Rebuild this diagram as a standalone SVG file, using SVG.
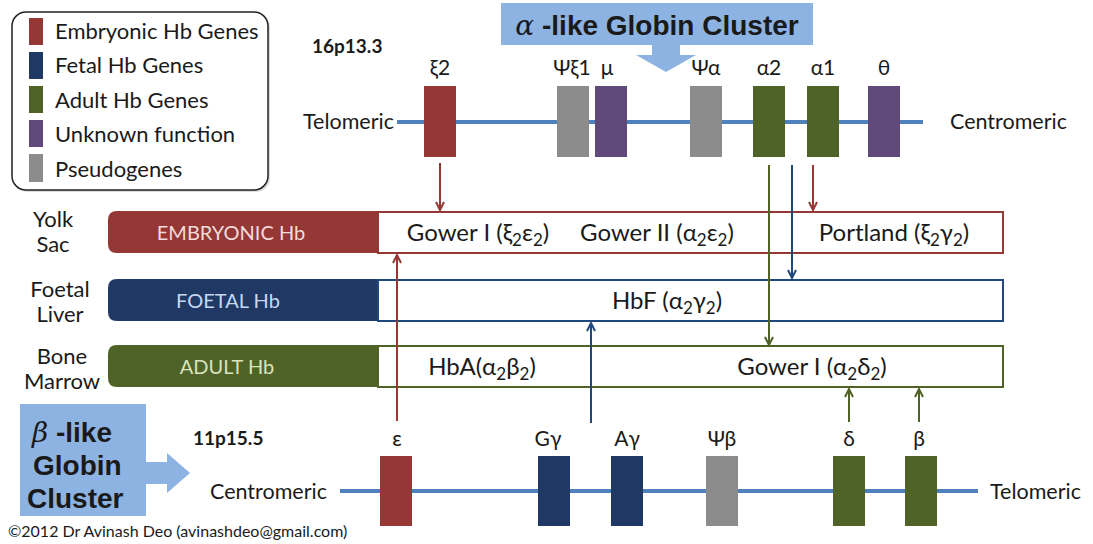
<svg xmlns="http://www.w3.org/2000/svg" width="1093" height="544" viewBox="0 0 1093 544">
<defs>
<style>
text{font-family:Lato,"Open Sans","DejaVu Sans",sans-serif;fill:#1a1a1a}
.leg{font-size:22px}
.gl{font-size:21px;text-anchor:middle}
.side{font-size:22px;text-anchor:middle}
.bar{font-size:20px;text-anchor:middle}
.hb{font-size:24px;text-anchor:middle}
.sub{font-size:17px}
.loc{font-size:19px;font-weight:bold}
.end{font-size:21.5px}
.title{font-family:"Liberation Sans",Arial,sans-serif;font-weight:bold;font-size:28px}
.chrom{stroke:#4f81bd;stroke-width:4;fill:none}
.emb{fill:#953735}.fet{fill:#1f3864}.adu{fill:#4f6228}.unk{fill:#604a7b}.pse{fill:#8c8c8c}
.callout{fill:#8db3e2}
.cr{stroke:#953735;stroke-width:2;fill:none}
.cb{stroke:#1f497d;stroke-width:2;fill:none}
.cg{stroke:#4f6228;stroke-width:2;fill:none}
</style>
<marker id="ar" viewBox="0 0 10 10" refX="9" refY="5" markerWidth="10" markerHeight="10" markerUnits="userSpaceOnUse" orient="auto"><path d="M1,1 L9,5 L1,9" fill="none" stroke="#953735" stroke-width="2"/></marker>
<marker id="ab" viewBox="0 0 10 10" refX="9" refY="5" markerWidth="10" markerHeight="10" markerUnits="userSpaceOnUse" orient="auto"><path d="M1,1 L9,5 L1,9" fill="none" stroke="#1f497d" stroke-width="2"/></marker>
<marker id="ag" viewBox="0 0 10 10" refX="9" refY="5" markerWidth="10" markerHeight="10" markerUnits="userSpaceOnUse" orient="auto"><path d="M1,1 L9,5 L1,9" fill="none" stroke="#4f6228" stroke-width="2"/></marker>
</defs>
<rect width="1093" height="544" fill="#fff"/>

<g id="legend">
<rect x="14" y="14" width="256" height="178" rx="14" fill="#999" opacity="0.35"/>
<rect x="12" y="12" width="256" height="178" rx="14" fill="#fff" stroke="#222" stroke-width="1.5"/>
<rect x="29" y="18" width="14" height="27" class="emb"/>
<rect x="29" y="52" width="14" height="27" class="fet"/>
<rect x="29" y="86" width="14" height="27" class="adu"/>
<rect x="29" y="120" width="14" height="27" class="unk"/>
<rect x="29" y="154" width="14" height="28" class="pse"/>
<text class="leg" x="55" y="39">Embryonic Hb Genes</text>
<text class="leg" x="55" y="73">Fetal Hb Genes</text>
<text class="leg" x="55" y="108">Adult Hb Genes</text>
<text class="leg" x="55" y="142">Unknown function</text>
<text class="leg" x="55" y="177">Pseudogenes</text>
</g>

<g id="alpha-callout">
<rect x="501" y="3" width="312" height="42" class="callout"/>
<path d="M652,45 H680 V55 H696 L666,72 L636,55 H652 Z" class="callout"/>
<text class="title" x="657" y="35" text-anchor="middle"><tspan font-style="italic" font-family="'DejaVu Serif',serif" font-weight="normal">α</tspan> -like Globin Cluster</text>
</g>

<g id="alpha-locus">
<text class="loc" x="312" y="53">16p13.3</text>
<text class="end" x="303" y="129">Telomeric</text>
<text class="end" x="950" y="129">Centromeric</text>
<line x1="397" y1="122" x2="923" y2="122" class="chrom"/>
</g>

<g id="gene-xi2"><rect x="424" y="86" width="32" height="71" class="emb"/><text class="gl" x="440" y="75">ξ2</text></g>
<g id="gene-psixi1"><rect x="557" y="86" width="32" height="71" class="pse"/><text class="gl" x="572" y="75">Ψξ1</text></g>
<g id="gene-mu"><rect x="595" y="86" width="32" height="71" class="unk"/><text class="gl" x="607" y="75">μ</text></g>
<g id="gene-psialpha"><rect x="690" y="86" width="32" height="71" class="pse"/><text class="gl" x="706" y="75">Ψα</text></g>
<g id="gene-alpha2"><rect x="753" y="86" width="32" height="71" class="adu"/><text class="gl" x="769" y="75">α2</text></g>
<g id="gene-alpha1"><rect x="807" y="86" width="32" height="71" class="adu"/><text class="gl" x="823" y="75">α1</text></g>
<g id="gene-theta"><rect x="868" y="86" width="32" height="71" class="unk"/><text class="gl" x="884" y="75">θ</text></g>

<g id="row-yolk">
<text class="side" x="53" y="227">Yolk</text>
<text class="side" x="53" y="252">Sac</text>
<path d="M378,211 H117 Q108,211 108,220 V244 Q108,253 117,253 H378 Z" class="emb"/>
<rect x="378" y="212" width="625" height="41" fill="#fff" stroke="#953735" stroke-width="2"/>
<text class="bar" x="231" y="240" style="fill:#f2dcdb">EMBRYONIC Hb</text>
<text class="hb" x="478" y="241">Gower I (ξ<tspan class="sub" dy="5">2</tspan><tspan dy="-5">ε</tspan><tspan class="sub" dy="5">2</tspan><tspan dy="-5">)</tspan></text>
<text class="hb" x="657" y="241">Gower II (α<tspan class="sub" dy="5">2</tspan><tspan dy="-5">ε</tspan><tspan class="sub" dy="5">2</tspan><tspan dy="-5">)</tspan></text>
<text class="hb" x="894" y="241">Portland (ξ<tspan class="sub" dy="5">2</tspan><tspan dy="-5">γ</tspan><tspan class="sub" dy="5">2</tspan><tspan dy="-5">)</tspan></text>
</g>

<g id="row-foetal">
<text class="side" x="60" y="297">Foetal</text>
<text class="side" x="60" y="322">Liver</text>
<path d="M378,279 H117 Q108,279 108,288 V312 Q108,321 117,321 H378 Z" class="fet"/>
<rect x="378" y="280" width="625" height="41" fill="#fff" stroke="#1f497d" stroke-width="2"/>
<text class="bar" x="228" y="308" style="fill:#c6d9f1">FOETAL Hb</text>
<text class="hb" x="667" y="309">HbF (α<tspan class="sub" dy="5">2</tspan><tspan dy="-5">γ</tspan><tspan class="sub" dy="5">2</tspan><tspan dy="-5">)</tspan></text>
</g>

<g id="row-bone">
<text class="side" x="62" y="364">Bone</text>
<text class="side" x="62" y="389">Marrow</text>
<path d="M378,345 H117 Q108,345 108,354 V378 Q108,387 117,387 H378 Z" class="adu"/>
<rect x="378" y="346" width="625" height="41" fill="#fff" stroke="#4f6228" stroke-width="2"/>
<text class="bar" x="227" y="374" style="fill:#d7e4bd">ADULT Hb</text>
<text class="hb" x="482" y="375">HbA(α<tspan class="sub" dy="5">2</tspan><tspan dy="-5">β</tspan><tspan class="sub" dy="5">2</tspan><tspan dy="-5">)</tspan></text>
<text class="hb" x="812" y="375">Gower I (α<tspan class="sub" dy="5">2</tspan><tspan dy="-5">δ</tspan><tspan class="sub" dy="5">2</tspan><tspan dy="-5">)</tspan></text>
</g>

<g id="connectors">
<line x1="440" y1="163" x2="440" y2="210" class="cr" marker-end="url(#ar)"/>
<line x1="813" y1="165" x2="813" y2="210" class="cr" marker-end="url(#ar)"/>
<line x1="769" y1="165" x2="769" y2="345" class="cg" marker-end="url(#ag)"/>
<line x1="792" y1="165" x2="792" y2="278" class="cb" marker-end="url(#ab)"/>
<line x1="397" y1="421" x2="397" y2="255" class="cr" marker-end="url(#ar)"/>
<line x1="591" y1="423" x2="591" y2="323" class="cb" marker-end="url(#ab)"/>
<line x1="849" y1="422" x2="849" y2="389" class="cg" marker-end="url(#ag)"/>
<line x1="919" y1="422" x2="919" y2="389" class="cg" marker-end="url(#ag)"/>
</g>

<g id="beta-callout">
<rect x="20" y="404" width="126" height="112" class="callout"/>
<path d="M146,462 H167 V453 L190,473 L167,493 V484 H146 Z" class="callout"/>
<text class="title" x="32" y="442"><tspan font-style="italic" font-family="'DejaVu Serif',serif" font-weight="normal">β</tspan> -like</text>
<text class="title" x="33" y="475">Globin</text>
<text class="title" x="27" y="508">Cluster</text>
</g>

<g id="beta-locus">
<text class="loc" x="193" y="445">11p15.5</text>
<text class="end" x="210" y="499">Centromeric</text>
<text class="end" x="990" y="499">Telomeric</text>
<line x1="340" y1="491" x2="978" y2="491" class="chrom"/>
</g>

<g id="gene-epsilon"><rect x="380" y="456" width="32" height="70" class="emb"/><text class="gl" x="397" y="446">ε</text></g>
<g id="gene-Ggamma"><rect x="538" y="456" width="32" height="70" class="fet"/><text class="gl" x="548" y="446">Gγ</text></g>
<g id="gene-Agamma"><rect x="611" y="456" width="32" height="70" class="fet"/><text class="gl" x="627" y="446">Aγ</text></g>
<g id="gene-psibeta"><rect x="706" y="456" width="32" height="70" class="pse"/><text class="gl" x="722" y="446">Ψβ</text></g>
<g id="gene-delta"><rect x="833" y="456" width="32" height="70" class="adu"/><text class="gl" x="849" y="446">δ</text></g>
<g id="gene-beta"><rect x="905" y="456" width="32" height="70" class="adu"/><text class="gl" x="919" y="446">β</text></g>

<text x="8" y="537" style="font-size:16px">©2012 Dr Avinash Deo (avinashdeo@gmail.com)</text>
</svg>
